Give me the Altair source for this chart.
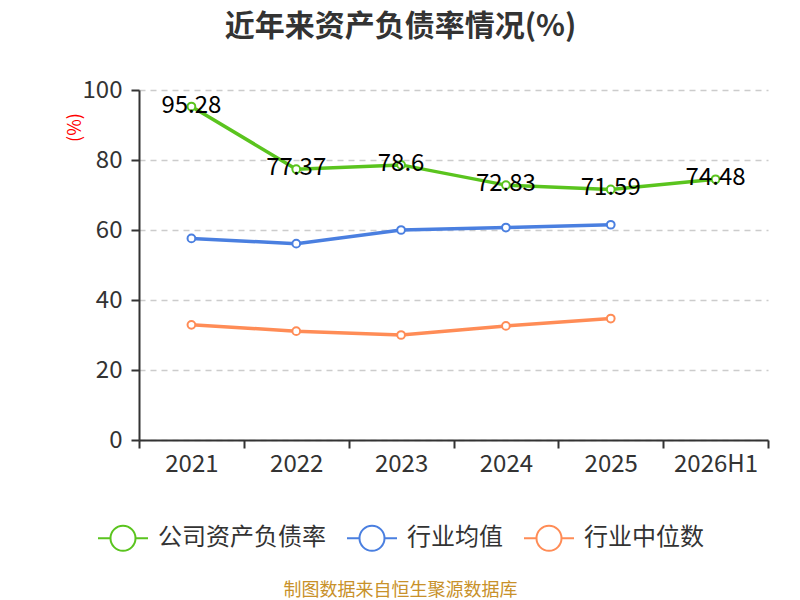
import altair as alt
import pandas as pd

years = ["2021", "2022", "2023", "2024", "2025", "2026H1"]
company = [95.28, 77.37, 78.6, 72.83, 71.59, 74.48]
company_labels = ["95.28", "77.37", "78.6", "72.83", "71.59", "74.48"]
industry_years = ["2021", "2022", "2023", "2024", "2025"]
industry_avg = [57.6, 56.1, 60.0, 60.7, 61.5]
industry_median = [32.9, 31.1, 30.0, 32.6, 34.7]
series = ["公司资产负债率", "行业均值", "行业中位数"]
colors = ["#5ac41e", "#4a7fe0", "#ff8c56"]

rows = []
for y, v, l in zip(years, company, company_labels):
    rows.append({"year": y, "value": v, "series": series[0], "label": l})
for y, v in zip(industry_years, industry_avg):
    rows.append({"year": y, "value": v, "series": series[1], "label": ""})
for y, v in zip(industry_years, industry_median):
    rows.append({"year": y, "value": v, "series": series[2], "label": ""})
df = pd.DataFrame(rows)

FONT = "Noto Sans CJK SC"
sym_path = "M-1,0L-0.5,0M0.5,0L1,0M0.5,0A0.5,0.5,0,1,1,-0.5,0A0.5,0.5,0,1,1,0.5,0"

x_enc = alt.X(
    "year:O",
    sort=years,
    scale=alt.Scale(type="band", domain=years, paddingInner=0, paddingOuter=0),
    bandPosition=0.5,
    axis=alt.Axis(
        title="制图数据来自恒生聚源数据库",
        titleColor="#c8912a",
        titleFontSize=18,
        titleFontWeight="normal",
        titleFont=FONT,
        titleX=261,
        titleY=150,
        titleAlign="center",
        titleBaseline="middle",
        labelAngle=0,
        labelFontSize=24,
        labelColor="#333333",
        labelFont=FONT,
        labelPadding=4,
        tickBand="extent",
        tickSize=8,
        tickColor="#333333",
        domainColor="#333333",
        domainWidth=2,
        tickWidth=2,
        grid=False,
    ),
)
y_enc = alt.Y(
    "value:Q",
    scale=alt.Scale(domain=[0, 100], nice=False),
    axis=alt.Axis(
        values=[0, 20, 40, 60, 80, 100],
        title="(%)",
        titleColor="#ff0000",
        titleFontSize=18,
        titleFontWeight="normal",
        titleFont=FONT,
        titleX=-64,
        titleY=37,
        titleAngle=270,
        titleAlign="center",
        titleBaseline="middle",
        labelFontSize=24,
        labelColor="#333333",
        labelFont=FONT,
        labelPadding=9,
        tickSize=8,
        tickWidth=2,
        tickColor="#333333",
        domainColor="#333333",
        domainWidth=2,
        grid=True,
        gridColor="#cccccc",
        gridDash=[6, 5],
        gridWidth=1.5,
    ),
)
color_enc = alt.Color(
    "series:N",
    scale=alt.Scale(domain=series, range=colors),
    legend=alt.Legend(
        title=None,
        orient="none",
        direction="horizontal",
        legendX=-42,
        legendY=422,
        symbolType=sym_path,
        symbolSize=2500,
        symbolStrokeWidth=2,
        symbolFillColor="white",
        labelFontSize=24,
        labelFont=FONT,
        labelColor="#333333",
        labelOffset=9,
        labelLimit=400,
        columnPadding=17,
    ),
)

base = alt.Chart(df)
lines = base.mark_line(strokeWidth=3.5).encode(x=x_enc, y=y_enc, color=color_enc)
points = base.mark_point(filled=True, fill="white", size=60, strokeWidth=2, opacity=1).encode(
    x=x_enc, y=y_enc, stroke=alt.Stroke("series:N", scale=alt.Scale(domain=series, range=colors), legend=None)
)
labels = base.transform_filter(alt.datum.label != "").mark_text(
    fontSize=24, font=FONT, color="#000000", align="center", baseline="middle", dy=-1
).encode(x=x_enc, y=y_enc, text="label:N")

chart = alt.layer(lines, points, labels).properties(
    width=629,
    height=350,
    autosize=alt.AutoSizeParams(type="none"),
    padding={"left": 131, "top": 82, "right": 24, "bottom": 170},
    title=alt.TitleParams(
        text="近年来资产负债率情况(%)",
        anchor="middle",
        frame="group",
        dx=-53,
        offset=36,
        fontSize=30,
        fontWeight="bold",
        font=FONT,
        color="#333333",
    ),
).configure_view(stroke=None)

chart.save("out.html", embed_options={"renderer": "svg", "actions": False})
